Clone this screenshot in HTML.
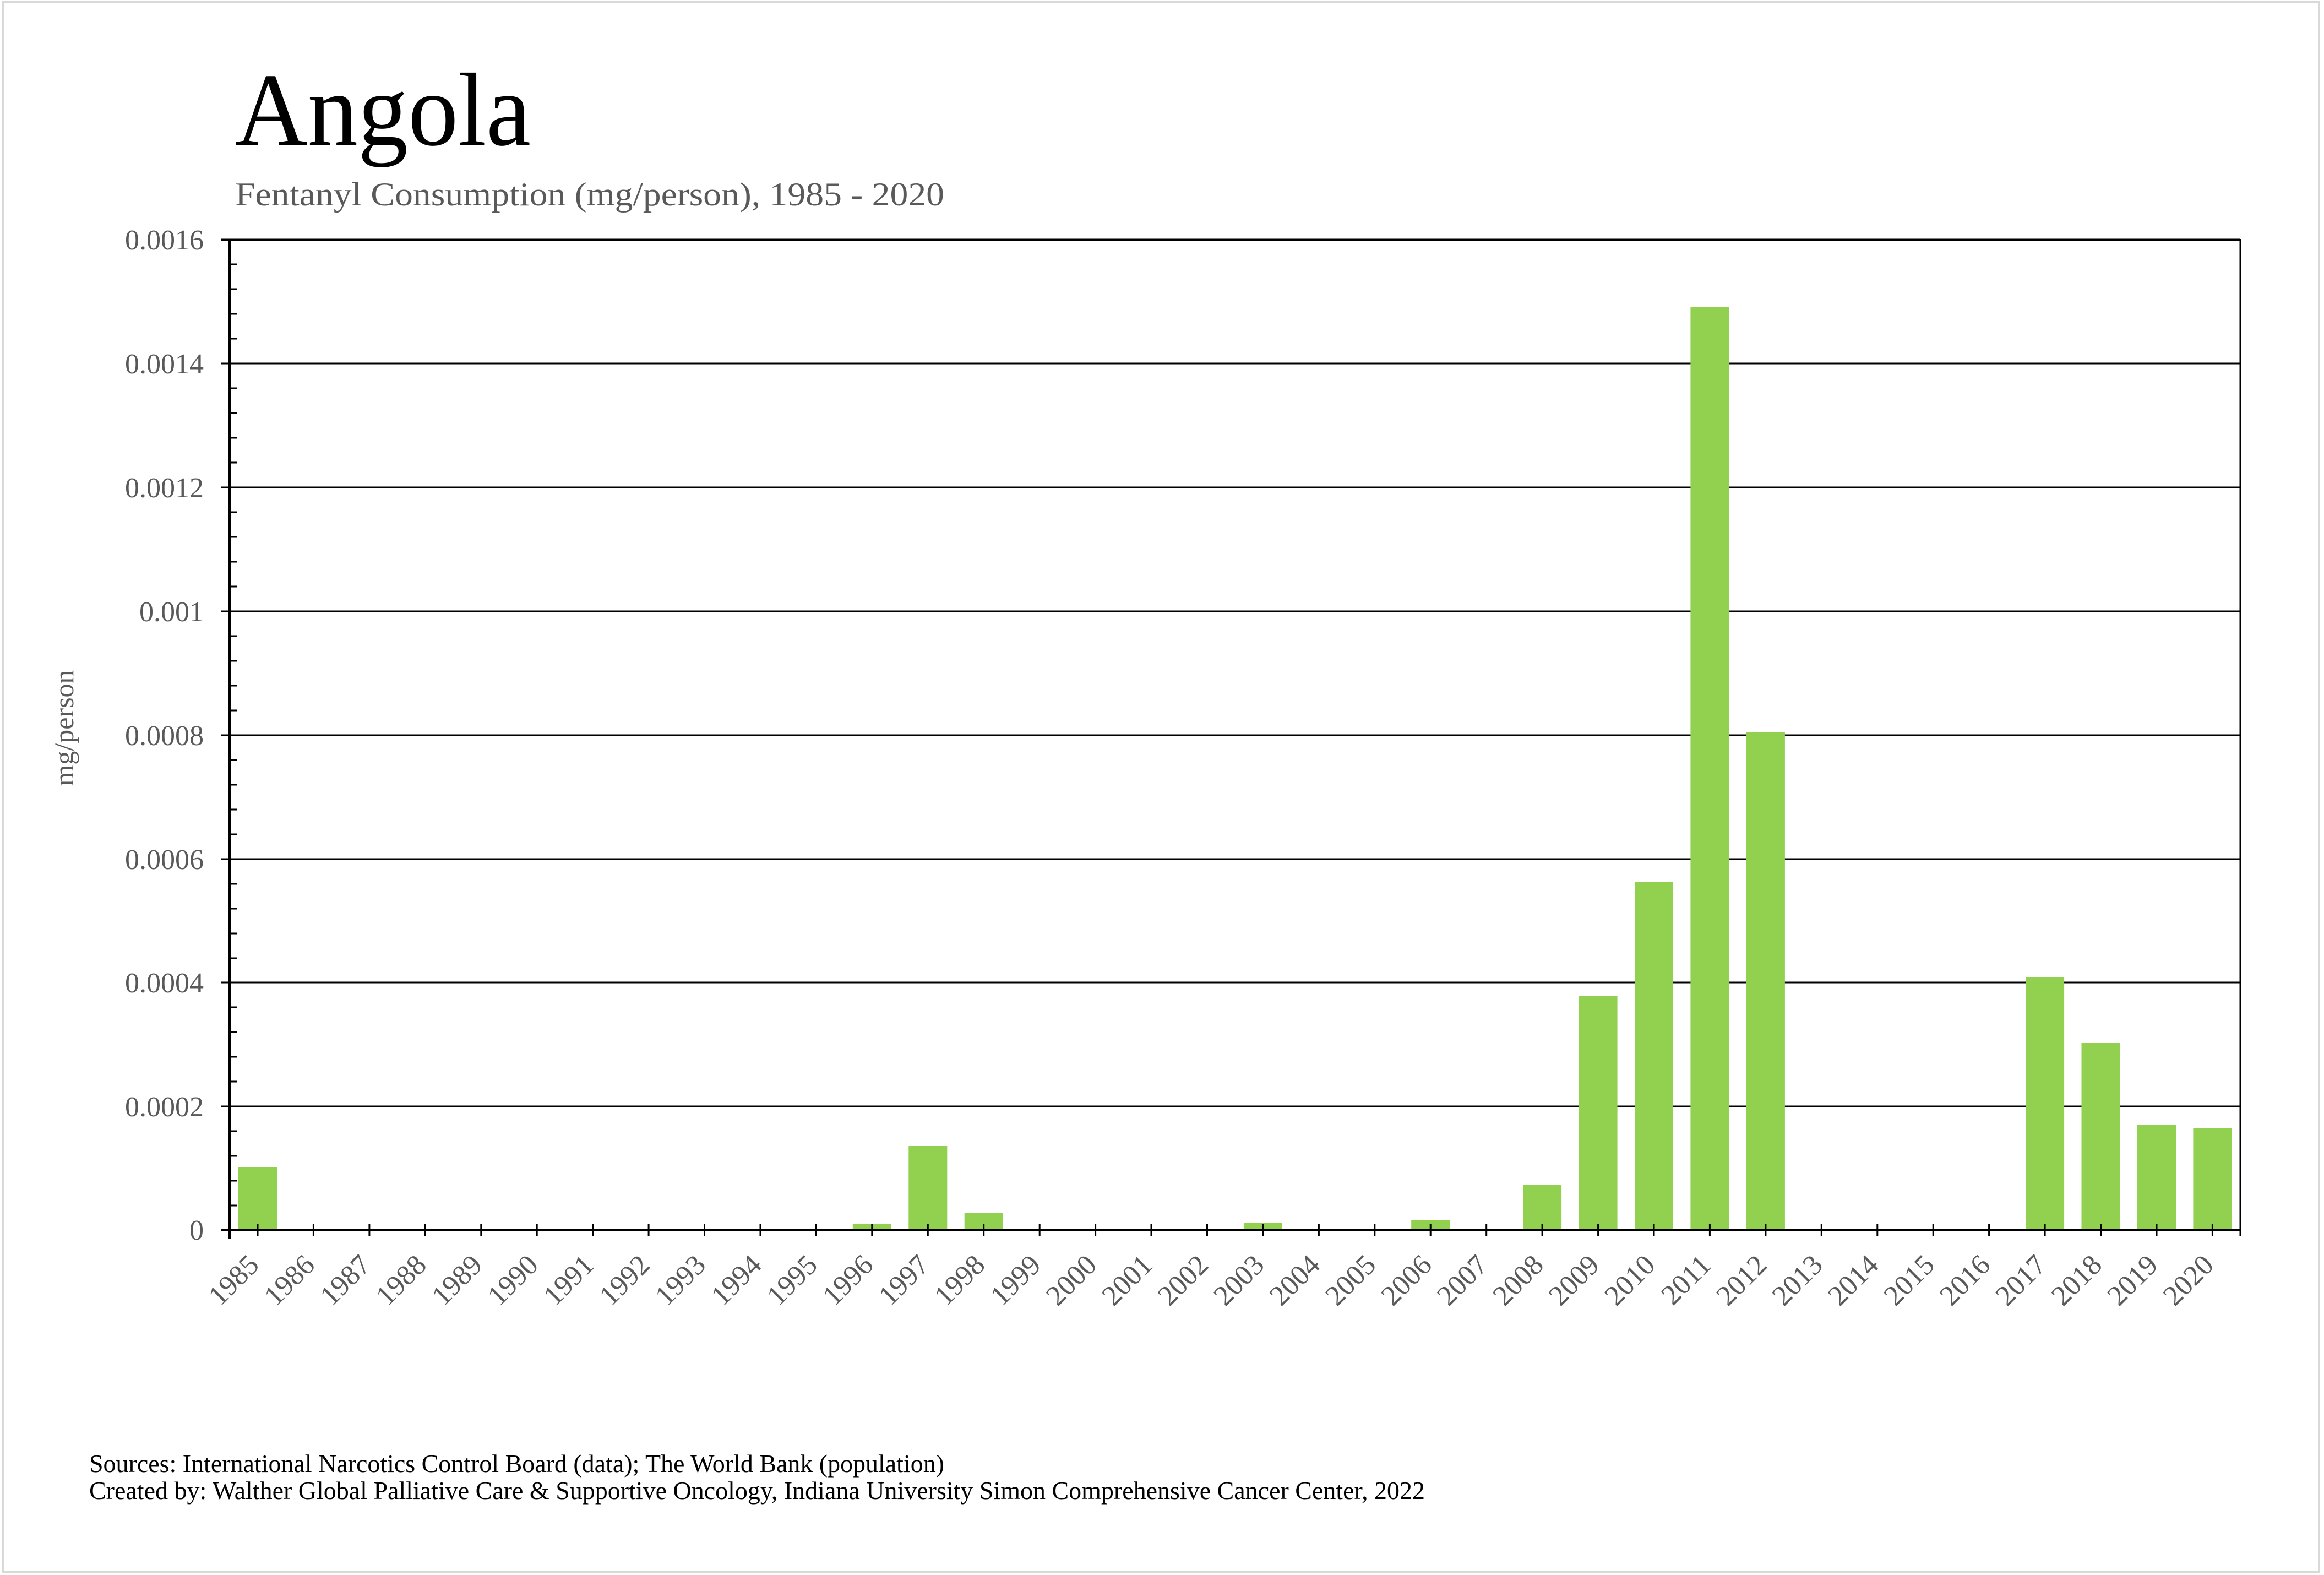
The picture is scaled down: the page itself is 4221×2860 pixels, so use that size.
<!DOCTYPE html>
<html><head><meta charset="utf-8"><style>
html,body{margin:0;padding:0;background:#fff;}
svg{display:block;}
text{font-family:"Liberation Serif",serif;}
</style></head><body>
<svg width="4221" height="2860" viewBox="0 0 4221 2860" xmlns="http://www.w3.org/2000/svg">
<rect x="0" y="0" width="4221" height="2860" fill="#fff"/>
<rect x="5" y="3" width="4207" height="2851" fill="none" stroke="#d9d9d9" stroke-width="4"/>

<text x="427" y="263" font-size="189" fill="#000" textLength="537" lengthAdjust="spacingAndGlyphs">Angola</text>
<text x="427" y="373" font-size="60" fill="#595959" textLength="1288" lengthAdjust="spacingAndGlyphs">Fentanyl Consumption (mg/person), 1985 - 2020</text>

<g stroke="#000" stroke-width="3">
<line x1="401" y1="435.5" x2="4069" y2="435.5" stroke-width="4"/>
<line x1="401" y1="660" x2="4069" y2="660"/>
<line x1="401" y1="885" x2="4069" y2="885"/>
<line x1="401" y1="1110" x2="4069" y2="1110"/>
<line x1="401" y1="1335" x2="4069" y2="1335"/>
<line x1="401" y1="1560" x2="4069" y2="1560"/>
<line x1="401" y1="1784" x2="4069" y2="1784"/>
<line x1="401" y1="2009" x2="4069" y2="2009"/>
</g>

<g fill="#92d050">
<rect x="433" y="2119" width="70" height="114"/>
<rect x="1548.8" y="2223" width="70" height="10"/>
<rect x="1650.3" y="2081" width="70" height="152"/>
<rect x="1751.7" y="2203" width="70" height="30"/>
<rect x="2157.5" y="2231" width="70" height="2"/>
<rect x="2258.9" y="2221" width="70" height="12"/>
<rect x="2563.2" y="2215" width="70" height="18"/>
<rect x="2766.1" y="2151" width="70" height="82"/>
<rect x="2867.6" y="1808" width="70" height="425"/>
<rect x="2969" y="1602" width="70" height="631"/>
<rect x="3070.4" y="557" width="70" height="1676"/>
<rect x="3171.9" y="1329" width="70" height="904"/>
<rect x="3679.1" y="1774" width="70" height="459"/>
<rect x="3780.5" y="1894" width="70" height="339"/>
<rect x="3882" y="2042" width="70" height="191"/>
<rect x="3983.4" y="2048" width="70" height="185"/>
</g>

<g stroke="#000">
<line x1="417" y1="434" x2="417" y2="2250" stroke-width="4"/>
<line x1="4069" y1="434" x2="4069" y2="2244" stroke-width="3"/>
<line x1="401" y1="2233" x2="4069" y2="2233" stroke-width="4"/>
<path stroke-width="3" d="M417 480H430M417 525H430M417 570H430M417 615H430M417 705H430M417 750H430M417 795H430M417 840H430M417 930H430M417 975H430M417 1020H430M417 1065H430M417 1155H430M417 1200H430M417 1245H430M417 1290H430M417 1380H430M417 1425H430M417 1470H430M417 1515H430M417 1605H430M417 1650H430M417 1695H430M417 1740H430M417 1829H430M417 1874H430M417 1919H430M417 1964H430M417 2054H430M417 2099H430M417 2144H430M417 2189H430"/>
<path stroke-width="3" d="M468 2223V2244M569.4 2223V2244M670.9 2223V2244M772.3 2223V2244M873.8 2223V2244M975.2 2223V2244M1076.6 2223V2244M1178.1 2223V2244M1279.5 2223V2244M1381 2223V2244M1482.4 2223V2244M1583.8 2223V2244M1685.3 2223V2244M1786.7 2223V2244M1888.2 2223V2244M1989.6 2223V2244M2091 2223V2244M2192.5 2223V2244M2293.9 2223V2244M2395.4 2223V2244M2496.8 2223V2244M2598.2 2223V2244M2699.7 2223V2244M2801.1 2223V2244M2902.6 2223V2244M3004 2223V2244M3105.4 2223V2244M3206.9 2223V2244M3308.3 2223V2244M3409.8 2223V2244M3511.2 2223V2244M3612.6 2223V2244M3714.1 2223V2244M3815.5 2223V2244M3917 2223V2244M4018.4 2223V2244"/>
</g>

<g font-size="52" fill="#595959" text-anchor="end">
<text x="370" y="453">0.0016</text>
<text x="370" y="678">0.0014</text>
<text x="370" y="903">0.0012</text>
<text x="370" y="1128">0.001</text>
<text x="370" y="1353">0.0008</text>
<text x="370" y="1578">0.0006</text>
<text x="370" y="1802">0.0004</text>
<text x="370" y="2027">0.0002</text>
<text x="370" y="2251">0</text>
</g>
<text transform="translate(133,1322) rotate(-90)" font-size="50" fill="#595959" text-anchor="middle">mg/person</text>

<g font-size="52" fill="#595959" text-anchor="end">
<text transform="translate(473,2300) rotate(-45)">1985</text>
<text transform="translate(574.4,2300) rotate(-45)">1986</text>
<text transform="translate(675.9,2300) rotate(-45)">1987</text>
<text transform="translate(777.3,2300) rotate(-45)">1988</text>
<text transform="translate(878.8,2300) rotate(-45)">1989</text>
<text transform="translate(980.2,2300) rotate(-45)">1990</text>
<text transform="translate(1081.6,2300) rotate(-45)">1991</text>
<text transform="translate(1183.1,2300) rotate(-45)">1992</text>
<text transform="translate(1284.5,2300) rotate(-45)">1993</text>
<text transform="translate(1386,2300) rotate(-45)">1994</text>
<text transform="translate(1487.4,2300) rotate(-45)">1995</text>
<text transform="translate(1588.8,2300) rotate(-45)">1996</text>
<text transform="translate(1690.3,2300) rotate(-45)">1997</text>
<text transform="translate(1791.7,2300) rotate(-45)">1998</text>
<text transform="translate(1893.2,2300) rotate(-45)">1999</text>
<text transform="translate(1994.6,2300) rotate(-45)">2000</text>
<text transform="translate(2096,2300) rotate(-45)">2001</text>
<text transform="translate(2197.5,2300) rotate(-45)">2002</text>
<text transform="translate(2298.9,2300) rotate(-45)">2003</text>
<text transform="translate(2400.4,2300) rotate(-45)">2004</text>
<text transform="translate(2501.8,2300) rotate(-45)">2005</text>
<text transform="translate(2603.2,2300) rotate(-45)">2006</text>
<text transform="translate(2704.7,2300) rotate(-45)">2007</text>
<text transform="translate(2806.1,2300) rotate(-45)">2008</text>
<text transform="translate(2907.6,2300) rotate(-45)">2009</text>
<text transform="translate(3009,2300) rotate(-45)">2010</text>
<text transform="translate(3110.4,2300) rotate(-45)">2011</text>
<text transform="translate(3211.9,2300) rotate(-45)">2012</text>
<text transform="translate(3313.3,2300) rotate(-45)">2013</text>
<text transform="translate(3414.8,2300) rotate(-45)">2014</text>
<text transform="translate(3516.2,2300) rotate(-45)">2015</text>
<text transform="translate(3617.6,2300) rotate(-45)">2016</text>
<text transform="translate(3719.1,2300) rotate(-45)">2017</text>
<text transform="translate(3820.5,2300) rotate(-45)">2018</text>
<text transform="translate(3922,2300) rotate(-45)">2019</text>
<text transform="translate(4023.4,2300) rotate(-45)">2020</text>
</g>

<text x="162" y="2673" font-size="46" fill="#000" textLength="1553" lengthAdjust="spacingAndGlyphs">Sources: International Narcotics Control Board (data); The World Bank (population)</text>
<text x="162" y="2722" font-size="46" fill="#000" textLength="2426" lengthAdjust="spacingAndGlyphs">Created by: Walther Global Palliative Care &amp; Supportive Oncology, Indiana University Simon Comprehensive Cancer Center, 2022</text>
</svg>
</body></html>
